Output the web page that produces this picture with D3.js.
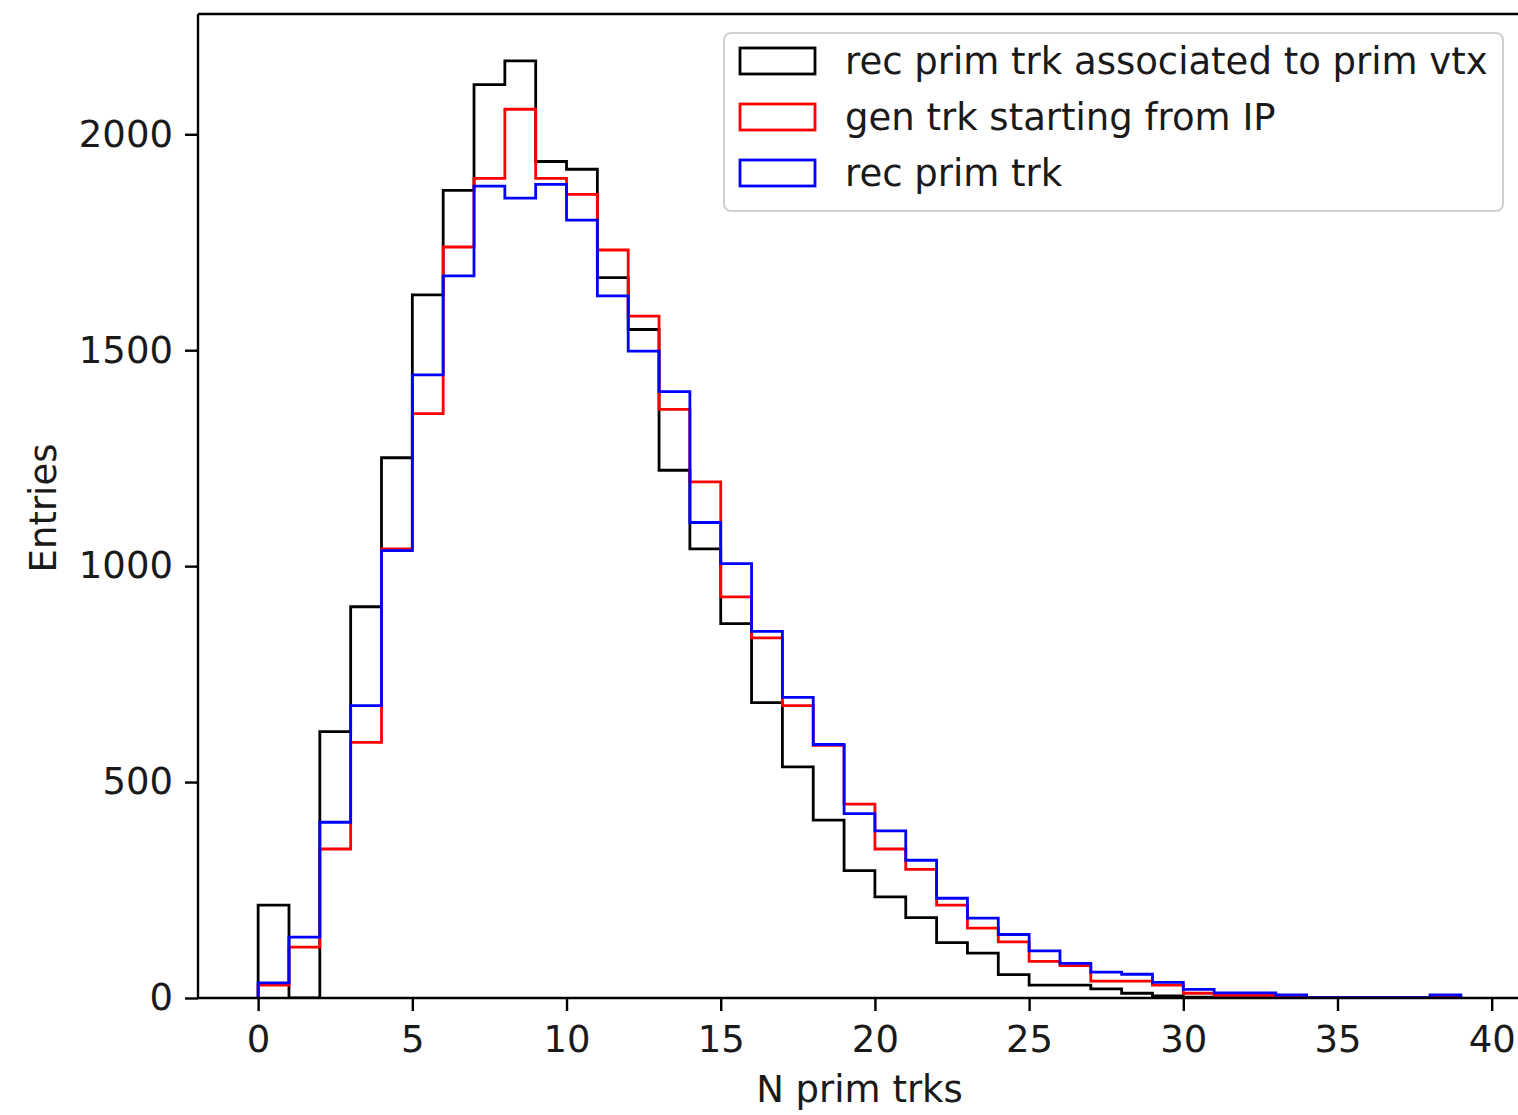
<!DOCTYPE html>
<html>
<head>
<meta charset="utf-8">
<script src="https://cdn.jsdelivr.net/npm/d3@7"></script>
<style>
  html, body { margin: 0; padding: 0; background: #fff; }
  svg { display: block; font-family: "DejaVu Sans", sans-serif; }
</style>
</head>
<body>
<svg id="chart" width="1518" height="1115"></svg>
<script>
// Bin edges 0..39 (39 bins of width 1)
const binEdges = d3.range(0, 40);
const seriesNames = ["rec prim trk associated to prim vtx", "gen trk starting from IP", "rec prim trk"];
const seriesColors = ["black", "red", "blue"];

const recAssoc = [215, 0, 617, 906, 1251, 1628, 1870, 2115, 2170, 1937, 1919, 1668, 1548, 1222, 1040, 867, 684, 535, 412, 295, 234, 186, 128, 104, 54, 30, 30, 21, 11, 5, 2, 1, 1, 0, 0, 0, 0, 0, 0];
const genIP = [30, 118, 345, 592, 1040, 1353, 1739, 1898, 2058, 1898, 1861, 1732, 1579, 1363, 1195, 929, 834, 677, 585, 449, 345, 298, 215, 162, 130, 85, 75, 39, 39, 30, 11, 6, 6, 1, 1, 1, 1, 1, 1];
const recPrim = [35, 141, 407, 677, 1036, 1443, 1672, 1880, 1852, 1884, 1801, 1626, 1498, 1404, 1101, 1006, 849, 696, 587, 427, 387, 319, 231, 185, 147, 109, 80, 60, 55, 36, 20, 12, 12, 7, 1, 1, 1, 1, 7];

const xTicks = [0, 5, 10, 15, 20, 25, 30, 35, 40];
const yTicks = [0, 500, 1000, 1500, 2000];
const xLabel = "N prim trks";
const yLabel = "Entries";

const allSeries = [recAssoc, genIP, recPrim];

const svg = d3.select("#chart");
const L = 198, R = 1521, T = 14, B = 998;
const FS = 37;

const xMin = binEdges[0], xMax = binEdges[binEdges.length - 1];
const xm = (xMax - xMin) * 0.05;
const x = d3.scaleLinear().domain([xMin - xm, xMax + xm]).range([L, R]);
const yMax = d3.max(allSeries.flat()) * 1.05;
const y = d3.scaleLinear().domain([0, yMax]).range([B, T]);

svg.append("defs").append("clipPath").attr("id", "clip")
  .append("rect").attr("x", L).attr("y", T).attr("width", R - L).attr("height", B - T);

// step outlines
function stepPoints(vals) {
  const pts = [[binEdges[0], 0]];
  vals.forEach((v, i) => {
    pts.push([binEdges[i], v]);
    pts.push([binEdges[i + 1], v]);
  });
  pts.push([binEdges[vals.length], 0]);
  return pts;
}
const line = d3.line().x(d => x(d[0])).y(d => y(d[1]));
const g = svg.append("g").attr("clip-path", "url(#clip)");
allSeries.forEach((vals, i) => {
  g.append("path")
    .attr("d", line(stepPoints(vals)))
    .attr("fill", "none")
    .attr("stroke", seriesColors[i])
    .attr("stroke-width", 2.8)
    .attr("stroke-linejoin", "miter");
});

// axes
const xAxis = d3.axisBottom(x).tickValues(xTicks).tickSize(13).tickPadding(15).tickFormat(d3.format("d"));
const yAxis = d3.axisLeft(y).tickValues(yTicks).tickSize(13).tickPadding(12).tickFormat(d3.format("d"));

const gx = svg.append("g").attr("transform", `translate(0,${B})`).call(xAxis);
const gy = svg.append("g").attr("transform", `translate(${L},0)`).call(yAxis);
[gx, gy].forEach(a => {
  a.select(".domain").remove();
  a.selectAll(".tick line").attr("stroke", "#000").attr("stroke-width", 2.4);
  a.selectAll(".tick text").attr("fill", "#1a1a1a").style("font-size", FS + "px").style("font-family", "DejaVu Sans");
});

// spines
const spine = svg.append("g").attr("stroke", "#000").attr("stroke-width", 2.4).attr("fill", "none");
spine.append("line").attr("x1", L).attr("x2", L).attr("y1", T).attr("y2", B);
spine.append("line").attr("x1", L).attr("x2", R).attr("y1", B).attr("y2", B);
spine.append("line").attr("x1", L).attr("x2", R).attr("y1", T).attr("y2", T);
spine.append("line").attr("x1", R).attr("x2", R).attr("y1", T).attr("y2", B);

// axis labels
svg.append("text").attr("x", (L + R) / 2).attr("y", 1102).attr("text-anchor", "middle")
  .attr("fill", "#1a1a1a").style("font-size", FS + "px").text(xLabel);
svg.append("text").attr("transform", `translate(56,${(T + B) / 2 + 2}) rotate(-90)`).attr("text-anchor", "middle")
  .attr("fill", "#1a1a1a").style("font-size", FS + "px").text(yLabel);

// legend
const lg = svg.append("g");
lg.append("rect").attr("x", 724).attr("y", 33).attr("width", 779).attr("height", 178)
  .attr("rx", 7).attr("fill", "white").attr("fill-opacity", 0.8)
  .attr("stroke", "#d0d0d0").attr("stroke-width", 2);
seriesNames.forEach((name, i) => {
  const cy = 61 + i * 56;
  lg.append("rect").attr("x", 740).attr("y", cy - 13).attr("width", 75).attr("height", 26)
    .attr("fill", "none").attr("stroke", seriesColors[i]).attr("stroke-width", 2.8);
  lg.append("text").attr("x", 845).attr("y", cy + 13).attr("fill", "#1a1a1a")
    .style("font-size", FS + "px").text(name);
});
</script>
</body>
</html>
